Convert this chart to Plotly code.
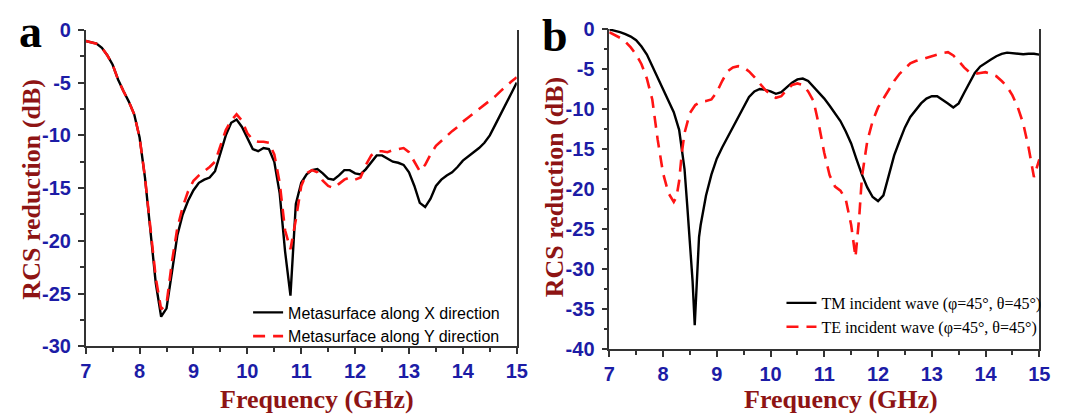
import plotly.graph_objects as go

# ---------------- Panel a data ----------------
freq_a = [7.0, 7.1, 7.2, 7.3, 7.4, 7.5, 7.6, 7.7, 7.8, 7.9,
          8.0, 8.1, 8.2, 8.3, 8.4, 8.5, 8.6, 8.7, 8.8, 8.9,
          9.0, 9.1, 9.2, 9.3, 9.4, 9.5, 9.6, 9.7, 9.8, 9.9,
          10.0, 10.1, 10.2, 10.3, 10.4, 10.5, 10.6, 10.7, 10.8, 10.9,
          11.0, 11.1, 11.2, 11.3, 11.4, 11.5, 11.6, 11.7, 11.8, 11.9,
          12.0, 12.1, 12.2, 12.3, 12.4, 12.5, 12.6, 12.7, 12.8, 12.9,
          13.0, 13.1, 13.2, 13.3, 13.4, 13.5, 13.6, 13.7, 13.8, 13.9,
          14.0, 14.1, 14.2, 14.3, 14.4, 14.5, 14.6, 14.7, 14.8, 14.9, 15.0]

rcs_x_dir = [-1.05, -1.15, -1.3, -1.7, -2.4, -3.3, -4.7, -5.8, -6.8, -8.0,
             -10.2, -14.0, -19.0, -24.0, -27.2, -26.4, -23.0, -19.5, -17.5, -16.2,
             -15.2, -14.5, -14.2, -14.0, -13.4, -11.6, -10.0, -8.8, -8.5, -9.2,
             -10.2, -11.3, -11.5, -11.2, -11.3, -12.5, -15.5, -21.0, -25.2, -16.5,
             -14.5, -13.7, -13.3, -13.2, -13.6, -14.1, -14.2, -13.8, -13.3, -13.3,
             -13.6, -13.7, -13.2, -12.5, -11.9, -11.9, -12.2, -12.5, -12.6, -12.8,
             -13.5, -14.8, -16.4, -16.8, -16.0, -14.8, -14.2, -13.8, -13.5, -13.0,
             -12.4, -12.0, -11.6, -11.2, -10.7, -10.0, -9.0, -8.0, -7.0, -6.0, -5.0]

rcs_y_dir = [-1.05, -1.15, -1.3, -1.7, -2.4, -3.3, -4.7, -5.8, -6.8, -8.0,
             -10.2, -14.0, -19.0, -23.5, -26.5, -26.0, -22.0, -18.8, -16.8, -15.3,
             -14.3, -13.8, -13.4, -13.0, -12.5, -11.0, -9.5, -8.6, -8.0, -8.6,
             -9.8, -10.4, -10.6, -10.6, -10.7, -11.8, -14.5, -19.0, -20.8, -18.0,
             -14.8, -13.6, -13.3, -13.5, -14.3, -14.8, -15.0, -14.6, -14.2, -14.0,
             -14.2, -14.0, -12.8, -11.9, -11.5, -11.5, -11.6, -11.4, -11.3, -11.2,
             -11.6, -12.5, -13.4, -12.8, -11.8, -11.0, -10.5, -10.0, -9.6, -9.2,
             -8.7, -8.3, -7.9, -7.5, -7.1, -6.7, -6.3, -5.8, -5.3, -4.9, -4.5]

# ---------------- Panel b data ----------------
freq_tm = [7.0, 7.1, 7.2, 7.3, 7.4, 7.5, 7.6, 7.7, 7.8, 7.9,
           8.0, 8.1, 8.2, 8.3, 8.4, 8.45, 8.5, 8.55, 8.59, 8.63, 8.67, 8.7, 8.8, 8.9,
           9.0, 9.1, 9.2, 9.3, 9.4, 9.5, 9.6, 9.7, 9.8, 9.9,
           10.0, 10.1, 10.2, 10.3, 10.4, 10.5, 10.6, 10.7, 10.8, 10.9,
           11.0, 11.1, 11.2, 11.3, 11.4, 11.5, 11.6, 11.7, 11.8, 11.9,
           12.0, 12.1, 12.2, 12.3, 12.4, 12.5, 12.6, 12.7, 12.8, 12.9,
           13.0, 13.1, 13.2, 13.3, 13.4, 13.5, 13.6, 13.7, 13.8, 13.9,
           14.0, 14.1, 14.2, 14.3, 14.4, 14.5, 14.6, 14.7, 14.8, 14.9, 15.0]

rcs_tm = [-0.05, -0.2, -0.4, -0.65, -0.95, -1.4, -2.2, -3.2, -4.6, -6.0,
          -7.4, -8.9, -10.4, -12.6, -17.5, -22.0, -26.5, -31.5, -37.0, -31.0, -26.0, -24.5, -20.8, -18.2,
          -16.2, -14.8, -13.5, -12.2, -10.9, -9.7, -8.5, -7.8, -7.5, -7.6,
          -7.8, -8.1, -7.9, -7.3, -6.7, -6.3, -6.2, -6.5, -7.2, -7.9,
          -8.7, -9.6, -10.5, -11.5, -12.8, -14.3, -16.3, -18.2, -19.8, -21.0,
          -21.5, -20.8, -18.3, -15.8, -14.0, -12.3, -11.0, -10.1, -9.3, -8.7,
          -8.4, -8.4, -8.8, -9.3, -9.8, -9.3, -8.0, -6.7, -5.5, -4.7,
          -4.2, -3.8, -3.4, -3.1, -2.95, -3.0, -3.1, -3.15, -3.1, -3.1, -3.2]

freq_te = [7.0, 7.1, 7.2, 7.3, 7.4, 7.5, 7.6, 7.7, 7.8, 7.9,
           8.0, 8.1, 8.2, 8.25, 8.3, 8.35, 8.4, 8.5, 8.6, 8.7, 8.8, 8.9,
           9.0, 9.1, 9.2, 9.3, 9.4, 9.5, 9.6, 9.7, 9.8, 9.9,
           10.0, 10.1, 10.2, 10.3, 10.4, 10.5, 10.6, 10.7, 10.8, 10.9,
           11.0, 11.1, 11.2, 11.3, 11.4, 11.5, 11.58, 11.65, 11.7, 11.8, 11.9,
           12.0, 12.1, 12.2, 12.3, 12.4, 12.5, 12.6, 12.7, 12.8, 12.9,
           13.0, 13.1, 13.2, 13.3, 13.4, 13.5, 13.6, 13.7, 13.8, 13.9,
           14.0, 14.1, 14.2, 14.3, 14.4, 14.5, 14.6, 14.7, 14.8, 14.9, 15.0]

rcs_te = [-0.4, -0.7, -1.1, -1.6, -2.3, -3.2, -4.4, -6.2, -8.8, -13.8,
          -18.0, -20.5, -21.6, -21.0, -19.0, -15.5, -13.0, -10.5, -9.5, -9.1, -9.0, -8.8,
          -7.9, -6.5, -5.3, -4.8, -4.65, -4.8, -5.3, -6.0, -6.8, -7.6,
          -8.2, -8.6, -8.4, -7.6, -7.0, -6.8, -7.0, -7.8, -9.0, -12.0,
          -15.5, -18.3, -19.7, -20.2, -21.3, -24.5, -28.5, -23.5, -18.5, -14.0, -11.5,
          -9.8, -8.7, -7.6, -6.5, -5.6, -4.9, -4.3, -4.0, -3.8, -3.6,
          -3.4, -3.2, -3.0, -2.9, -3.3, -4.0, -4.8, -5.4, -5.6, -5.5,
          -5.4, -5.6, -5.9, -6.5, -7.2, -8.3, -9.8, -11.8, -14.8, -18.5, -16.3]

# ---------------- Tick labels ----------------
x_ticks = [7, 8, 9, 10, 11, 12, 13, 14, 15]
x_ticktext = ["7", "8", "9", "10", "11", "12", "13", "14", "15"]
ya_ticks = [0, -5, -10, -15, -20, -25, -30]
ya_ticktext = ["0", "-5", "-10", "-15", "-20", "-25", "-30"]
yb_ticks = [0, -5, -10, -15, -20, -25, -30, -35, -40]
yb_ticktext = ["0", "-5", "-10", "-15", "-20", "-25", "-30", "-35", "-40"]

W, H = 1070, 415
BLUE = "#1c1ca6"
DARKRED = "#8e1414"
RED = "#ff1414"
AXC = "#333333"

fig = go.Figure()

fig.add_trace(go.Scatter(x=freq_a, y=rcs_x_dir, mode="lines", name="Metasurface along X direction",
                         line=dict(color="black", width=2.4), xaxis="x", yaxis="y", legend="legend"))
fig.add_trace(go.Scatter(x=freq_a, y=rcs_y_dir, mode="lines", name="Metasurface along Y direction",
                         line=dict(color=RED, width=2.6, dash="12px,8px"), xaxis="x", yaxis="y", legend="legend"))
fig.add_trace(go.Scatter(x=freq_tm, y=rcs_tm, mode="lines", name="TM incident wave (φ=45°, θ=45°)",
                         line=dict(color="black", width=2.4), xaxis="x2", yaxis="y2", legend="legend2"))
fig.add_trace(go.Scatter(x=freq_te, y=rcs_te, mode="lines", name="TE incident wave (φ=45°, θ=45°)",
                         line=dict(color=RED, width=2.6, dash="12px,8px"), xaxis="x2", yaxis="y2", legend="legend2"))

# pixel -> paper helpers
def px(x):
    return x / W

def py(y):
    return 1 - y / H

ax_a = (81, 519, 20, 354)
ax_b = (613, 1050, 19, 357)

tickfont = dict(family="Liberation Sans, Arial", size=20, color=BLUE, weight="bold")

def xaxis_cfg(box, anchor):
    return dict(domain=[px(box[0]), px(box[1])], anchor=anchor, range=[7, 15],
                tickvals=x_ticks, ticktext=x_ticktext, ticks="outside", ticklen=6, tickwidth=1.5,
                tickcolor=AXC, minor=dict(dtick=0.5, tick0=7, ticks="outside", ticklen=4, tickwidth=1.5, tickcolor=AXC),
                showline=True, linecolor=AXC, linewidth=1.5, showgrid=False, zeroline=False,
                tickfont=tickfont, ticklabelstandoff=0, fixedrange=True)

def xtop_cfg(box, anchor, overlay):
    return dict(domain=[px(box[0]), px(box[1])], anchor=anchor, overlaying=overlay, side="top",
                range=[7, 15], dtick=0.5, tick0=7, ticks="inside", ticklen=5, tickwidth=1.5, tickcolor=AXC,
                showticklabels=False, showline=True, linecolor=AXC, linewidth=1.5,
                showgrid=False, zeroline=False, fixedrange=True)

def yaxis_cfg(box, anchor, rng, tv, tt):
    return dict(domain=[py(box[3]), py(box[2])], anchor=anchor, range=rng,
                tickvals=tv, ticktext=tt, ticks="outside", ticklen=6, tickwidth=1.5, tickcolor=AXC,
                minor=dict(dtick=2.5, tick0=0, ticks="outside", ticklen=4, tickwidth=1.5, tickcolor=AXC),
                showline=True, mirror=True, linecolor=AXC, linewidth=1.5, showgrid=False, zeroline=False,
                tickfont=tickfont, ticklabelstandoff=3, fixedrange=True)

fig.update_layout(
    width=W, height=H,
    margin=dict(l=0, r=0, t=0, b=0),
    paper_bgcolor="white", plot_bgcolor="white",
    xaxis=xaxis_cfg(ax_a, "y"),
    yaxis=yaxis_cfg(ax_a, "x", [-30, 0], ya_ticks, ya_ticktext),
    xaxis2=xaxis_cfg(ax_b, "y2"),
    yaxis2=yaxis_cfg(ax_b, "x2", [-40, 0], yb_ticks, yb_ticktext),
    xaxis3=xtop_cfg(ax_a, "y", "x"),
    xaxis4=xtop_cfg(ax_b, "y2", "x2"),
    legend=dict(x=px(246), y=py(331), xanchor="left", yanchor="middle", bgcolor="rgba(0,0,0,0)",
                font=dict(family="Liberation Sans, Arial", size=16, color="black"),
                tracegroupgap=0, itemwidth=30),
    legend2=dict(x=px(788), y=py(321), xanchor="left", yanchor="middle", bgcolor="rgba(0,0,0,0)",
                 font=dict(family="Liberation Serif, Times New Roman", size=16, color="black"),
                 tracegroupgap=0, itemwidth=30),
    showlegend=True,
)

title_font = dict(family="Liberation Serif, Times New Roman", size=26, color=DARKRED, weight="bold")
annotations = [
    dict(text="Frequency (GHz)", x=px(316), y=py(410), xref="paper", yref="paper",
         showarrow=False, font=title_font, xanchor="center", yanchor="middle"),
    dict(text="Frequency (GHz)", x=px(848), y=py(410), xref="paper", yref="paper",
         showarrow=False, font=title_font, xanchor="center", yanchor="middle"),
    dict(text="RCS reduction (dB)", x=px(25), y=py(188), xref="paper", yref="paper", textangle=-90,
         showarrow=False, font=title_font, xanchor="center", yanchor="middle"),
    dict(text="RCS reduction (dB)", x=px(557), y=py(186), xref="paper", yref="paper", textangle=-90,
         showarrow=False, font=title_font, xanchor="center", yanchor="middle"),
    dict(text="a", x=px(25), y=py(22), xref="paper", yref="paper", showarrow=False,
         font=dict(family="Liberation Serif, Times New Roman", size=46, color="black", weight="bold"),
         xanchor="center", yanchor="middle"),
    dict(text="b", x=px(558), y=py(26), xref="paper", yref="paper", showarrow=False,
         font=dict(family="Liberation Serif, Times New Roman", size=46, color="black", weight="bold"),
         xanchor="center", yanchor="middle"),
]
fig.update_layout(annotations=annotations)

fig.write_html("out.html")
